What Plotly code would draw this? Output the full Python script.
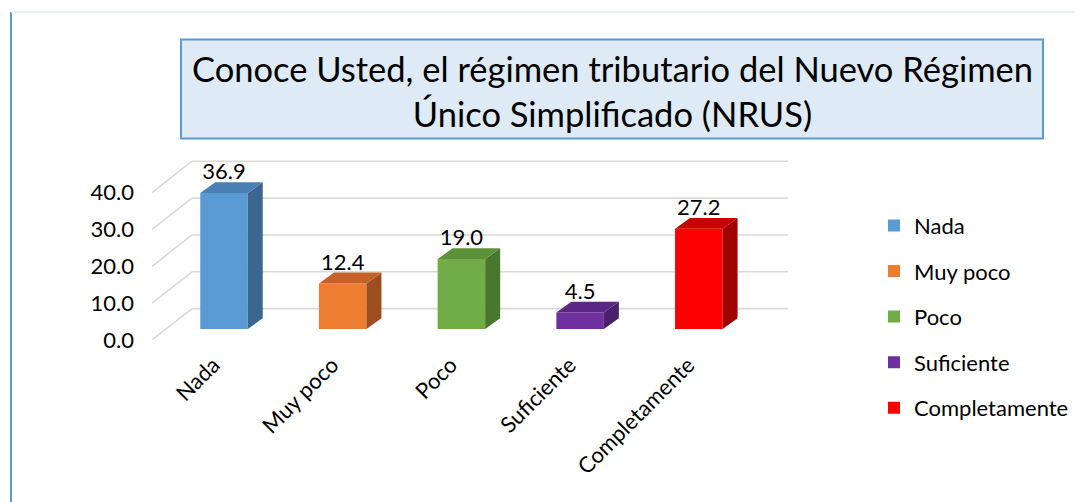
import plotly.graph_objects as go

# ---------------- data ----------------
categories = ["Nada", "Muy poco", "Poco", "Suficiente", "Completamente"]
values = [36.9, 12.4, 19.0, 4.5, 27.2]
y_ticks = [0, 10, 20, 30, 40]
title_lines = ["Conoce Usted, el régimen tributario del Nuevo Régimen",
               "Único Simplificado (NRUS)"]
front_colors = ["#5B9BD5", "#ED7D31", "#70AD47", "#7030A0", "#FF0000"]
top_colors = ["#4A7FB3", "#C4622A", "#5C9039", "#5B2784", "#C80000"]
side_colors = ["#3B6690", "#9E4E1E", "#4A772E", "#4A1F6C", "#A00000"]

# ---------------- geometry (reference pixels) ----------------
W, H = 1083, 502
OFF = 8                    # page body margin offset


def px(x):
    return (x - OFF) / W


def py(y):
    return 1 - (y - OFF) / H


X0, X1 = 140, 800          # plot area left/right (px)
Y0, Y1 = 150, 351          # plot area top/bottom (px)
CX0, SX = 224, 118.7       # px of first category centre, px per category
ZY, SY = 333, 3.73         # px of value 0 in bar plane, px per unit
BAR_W = 47.5 / SX
DEPTH_DX, DEPTH_DY = 15 / SX, 11 / SY
FRONT_DY = -11 / SY        # front plane relative to bar plane (value units)
BACK_DY = 20.7 / SY
FRONT_LEFT = (152 - CX0) / SX
BACK_LEFT = (192 - CX0) / SX
BACK_RIGHT = (788 - CX0) / SX
FRONT_DX_SHIFT = 10.5 / SX
LABEL_GAP = 8.5 / SY

xrange = [(X0 - CX0) / SX, (X1 - CX0) / SX]
yrange = [(ZY - Y1) / SY, (ZY - Y0) / SY]

xpos = list(range(len(categories)))
FONT = "Lato, 'Open Sans', sans-serif"
FS = 22

fig = go.Figure()

# bars (front faces)
for i, (c, v) in enumerate(zip(categories, values)):
    fig.add_trace(go.Bar(x=[xpos[i]], y=[v], width=BAR_W, name=c,
                         marker=dict(color=front_colors[i], line=dict(width=0)),
                         legendgroup=c, hoverinfo="skip"))

# 3D side and top faces derived from values
for i, v in enumerate(values):
    xl, xr = xpos[i] - BAR_W / 2, xpos[i] + BAR_W / 2
    fig.add_trace(go.Scatter(
        x=[xr, xr + DEPTH_DX, xr + DEPTH_DX, xr, xr],
        y=[0, DEPTH_DY, v + DEPTH_DY, v, 0],
        fill="toself", fillcolor=side_colors[i], mode="lines",
        line=dict(width=0, color=side_colors[i]),
        hoverinfo="skip", showlegend=False))
    fig.add_trace(go.Scatter(
        x=[xl, xl + DEPTH_DX, xr + DEPTH_DX, xr, xl],
        y=[v, v + DEPTH_DY, v + DEPTH_DY, v, v],
        fill="toself", fillcolor=top_colors[i], mode="lines",
        line=dict(width=0, color=top_colors[i]),
        hoverinfo="skip", showlegend=False))

# value labels
fig.add_trace(go.Scatter(
    x=xpos, y=[v + DEPTH_DY + LABEL_GAP for v in values],
    text=[f"{v:.1f}" for v in values], mode="text",
    textposition="middle center",
    textfont=dict(family=FONT, size=FS, color="#000000"),
    hoverinfo="skip", showlegend=False))

# dummy trace for the front-plane label axes
fig.add_trace(go.Scatter(x=[None], y=[None], xaxis="x2", yaxis="y2",
                         mode="markers", showlegend=False, hoverinfo="skip"))

# gridlines (back wall + left side wall), drawn beneath the bars
shapes = []
for v in y_ticks:
    shapes.append(dict(type="line", xref="x", yref="y", layer="below",
                       x0=FRONT_LEFT, y0=v + FRONT_DY, x1=BACK_LEFT, y1=v + BACK_DY,
                       line=dict(color="#D9D9D9", width=1.6)))
    shapes.append(dict(type="line", xref="x", yref="y", layer="below",
                       x0=BACK_LEFT, y0=v + BACK_DY, x1=BACK_RIGHT, y1=v + BACK_DY,
                       line=dict(color="#D9D9D9", width=1.6)))

shapes += [
    dict(type="line", xref="paper", yref="paper",
         x0=px(11), x1=px(11), y0=py(510), y1=py(12),
         line=dict(color="#5B9BD5", width=2)),
    dict(type="line", xref="paper", yref="paper",
         x0=px(11), x1=px(1100), y0=py(12), y1=py(12),
         line=dict(color="#DDEBF7", width=1.5)),
    dict(type="rect", xref="paper", yref="paper",
         x0=px(181), x1=px(1043), y0=py(140), y1=py(40),
         fillcolor="#DEEBF7", line=dict(color="#5B9BD5", width=2),
         layer="below"),
]

fig.update_layout(
    width=W, height=H,
    margin=dict(l=0, r=0, t=0, b=0),
    paper_bgcolor="white", plot_bgcolor="rgba(0,0,0,0)",
    barmode="overlay",
    xaxis=dict(domain=[px(X0), px(X1)], range=xrange, visible=False),
    yaxis=dict(domain=[py(Y1), py(Y0)], range=yrange, visible=False),
    xaxis2=dict(overlaying="x", anchor="y2", side="bottom",
                range=[xrange[0] + FRONT_DX_SHIFT, xrange[1] + FRONT_DX_SHIFT],
                tickmode="array", tickvals=xpos, ticktext=categories,
                tickangle=-45, showgrid=False, zeroline=False, showline=False,
                ticks="", tickfont=dict(family=FONT, size=FS, color="#000000")),
    yaxis2=dict(overlaying="y", anchor="x2", side="left",
                range=[yrange[0] - FRONT_DY, yrange[1] - FRONT_DY],
                tickmode="array", tickvals=y_ticks,
                ticktext=[f"{t:.1f}" for t in y_ticks],
                showgrid=False, zeroline=False, showline=False,
                ticks="", ticklabelstandoff=5,
                tickfont=dict(family=FONT, size=FS, color="#000000")),
    legend=dict(x=866 / W, y=1 - 199 / H, xanchor="left", yanchor="top",
                font=dict(family=FONT, size=FS, color="#000000"),
                tracegroupgap=14, bgcolor="rgba(0,0,0,0)"),
    showlegend=True,
    shapes=shapes,
    annotations=[
        dict(xref="paper", yref="paper", x=px(612), y=py(92),
             xanchor="center", yanchor="middle", showarrow=False,
             text="<br>".join(title_lines), align="center",
             font=dict(family=FONT, size=34.5, color="#000000")),
    ],
)

fig.write_html("out.html")
